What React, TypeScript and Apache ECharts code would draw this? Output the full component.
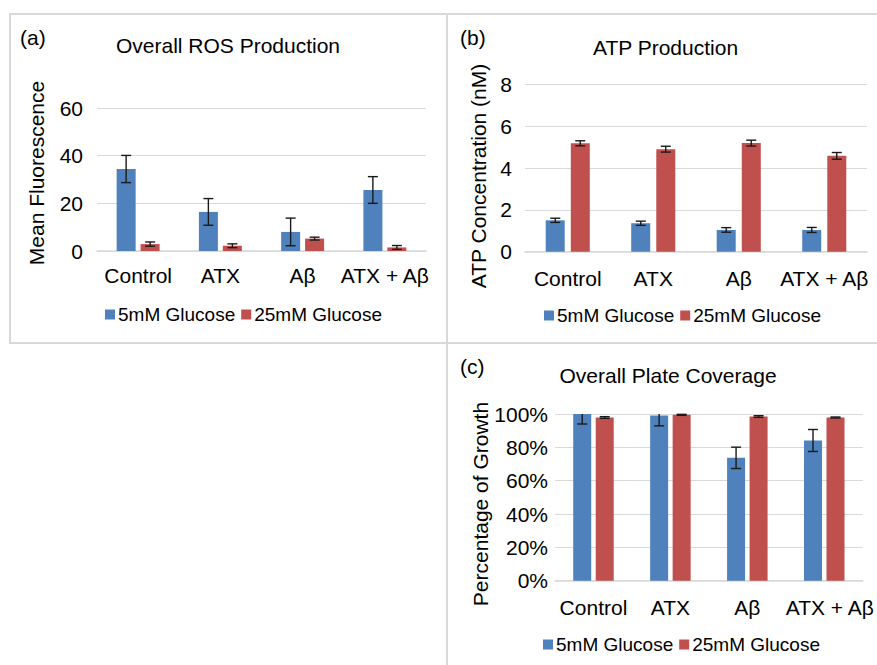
import React, { useEffect, useRef } from "react";
import * as echarts from "echarts";

const categories = ["Control", "ATX", "Aβ", "ATX + Aβ"];
const seriesNames = ["5mM Glucose", "25mM Glucose"];

// (a) Overall ROS Production
const rosLow = [34.4, 16.4, 8.0, 25.6];
const rosLowErr = [5.7, 5.6, 5.8, 5.6];
const rosHigh = [2.9, 2.2, 5.2, 1.5];
const rosHighErr = [0.9, 0.8, 0.6, 0.8];

// (b) ATP Production
const atpLow = [1.5, 1.36, 1.04, 1.04];
const atpLowErr = [0.1, 0.1, 0.11, 0.12];
const atpHigh = [5.18, 4.9, 5.19, 4.58];
const atpHighErr = [0.12, 0.14, 0.14, 0.16];

// (c) Overall Plate Coverage (fractions)
const covLow = [1.0, 0.991, 0.737, 0.841];
const covLowErr = [0.06, 0.062, 0.064, 0.066];
const covHigh = [0.979, 0.995, 0.985, 0.979];
const covHighErr = [0.005, 0.003, 0.005, 0.003];

const FONT = "'Liberation Sans', Arial, sans-serif";
const BLUE = "#4f81bd";
const RED = "#c0504d";
const GRIDC = "#d9d9d9";
const TXT = "#000000";

function errSeries(
  idx: number,
  vals: number[],
  errs: number[],
  offset: number,
  axisMax: number
) {
  return {
    type: "custom",
    xAxisIndex: idx,
    yAxisIndex: idx,
    silent: true,
    z: 10,
    data: vals.map((v, i) => [i, v, errs[i]]),
    renderItem: (params: any, api: any) => {
      const i = api.value(0);
      const v = api.value(1);
      const e = api.value(2);
      const hi = Math.min(v + e, axisMax);
      const lo = v - e;
      const pHi = api.coord([i, hi]);
      const pLo = api.coord([i, lo]);
      const x = pHi[0] + offset;
      const cap = 5;
      const style = { stroke: "#1a1a1a", lineWidth: 1.4 };
      const children: any[] = [
        { type: "line", shape: { x1: x, y1: pHi[1], x2: x, y2: pLo[1] }, style },
        { type: "line", shape: { x1: x - cap, y1: pLo[1], x2: x + cap, y2: pLo[1] }, style },
      ];
      if (v + e <= axisMax) {
        children.push({
          type: "line",
          shape: { x1: x - cap, y1: pHi[1], x2: x + cap, y2: pHi[1] },
          style,
        });
      }
      return { type: "group", children };
    },
  };
}

export default function App() {
  const ref = useRef<HTMLDivElement>(null);
  useEffect(() => {
    if (!ref.current) return;
    const chart = echarts.init(ref.current, null, { renderer: "svg" });

    const grids = [
      { left: 97, top: 108, width: 329, height: 143 },
      { left: 525, top: 84.3, width: 342, height: 167.4 },
      { left: 555, top: 414, width: 311, height: 166.7 },
    ];
    const labelMargins = [14, 16, 16];
    const tickMargins = [14, 13, 7];

    const xAxes = grids.map((_, i) => ({
      type: "category",
      gridIndex: i,
      data:
        i === 2
          ? categories.map((c, k) =>
              k === categories.length - 1
                ? { value: c, textStyle: { padding: [0, 0, 0, 11] } }
                : c
            )
          : categories,
      axisTick: { show: false },
      axisLine: { show: true, lineStyle: { color: GRIDC, width: 1.5 } },
      axisLabel: {
        fontSize: 21,
        fontFamily: FONT,
        color: TXT,
        margin: labelMargins[i],
        interval: 0,
      },
    }));

    const yAxes = [
      { min: 0, max: 60, interval: 20, fmt: (v: number) => String(v) },
      { min: 0, max: 8, interval: 2, fmt: (v: number) => String(v) },
      { min: 0, max: 1, interval: 0.2, fmt: (v: number) => Math.round(v * 100) + "%" },
    ].map((a, i) => ({
      type: "value",
      gridIndex: i,
      min: a.min,
      max: a.max,
      interval: a.interval,
      axisLine: { show: false },
      axisTick: { show: false },
      splitLine: { show: true, lineStyle: { color: GRIDC, width: 1 } },
      axisLabel: {
        fontSize: 21,
        fontFamily: FONT,
        color: TXT,
        margin: tickMargins[i],
        formatter: a.fmt,
      },
    }));

    const barCfg = [
      { w: 19, gap: "26%" },
      { w: 19, gap: "32%" },
      { w: 18, gap: "25%" },
    ];
    const offsets = [12, 12.5, 11.25];
    const data = [
      [rosLow, rosLowErr, rosHigh, rosHighErr, 60],
      [atpLow, atpLowErr, atpHigh, atpHighErr, 8],
      [covLow, covLowErr, covHigh, covHighErr, 1],
    ] as any[];

    const series: any[] = [];
    data.forEach((d, i) => {
      series.push({
        type: "bar",
        name: seriesNames[0],
        xAxisIndex: i,
        yAxisIndex: i,
        data: d[0],
        barWidth: barCfg[i].w,
        barGap: barCfg[i].gap,
        itemStyle: { color: BLUE },
      });
      series.push({
        type: "bar",
        name: seriesNames[1],
        xAxisIndex: i,
        yAxisIndex: i,
        data: d[2],
        barWidth: barCfg[i].w,
        barGap: barCfg[i].gap,
        itemStyle: { color: RED },
      });
      series.push(errSeries(i, d[0], d[1], -offsets[i], d[4]));
      series.push(errSeries(i, d[2], d[3], offsets[i], d[4]));
    });

    const legendPos = [
      { left: 105, top: 305 },
      { left: 544, top: 306 },
      { left: 543, top: 635 },
    ];
    const legends = legendPos.map((p) => ({
      left: p.left,
      top: p.top,
      data: seriesNames,
      icon: "rect",
      itemWidth: 10,
      itemHeight: 10,
      itemGap: 6,
      padding: 0,
      selectedMode: false,
      textStyle: { fontSize: 19, fontFamily: FONT, color: TXT, padding: [0, 0, 0, -2] },
    }));

    const txt = (
      text: string,
      x: number,
      y: number,
      align: string,
      rot = 0
    ) => ({
      type: "text",
      x,
      y,
      rotation: rot,
      z: 50,
      style: {
        text,
        fontSize: 21,
        fontFamily: FONT,
        fill: TXT,
        textAlign: align,
        textVerticalAlign: "middle",
      },
    });

    const border = { stroke: "#d9d9d9", lineWidth: 2, fill: "none" };

    chart.setOption({
      animation: false,
      backgroundColor: "#ffffff",
      grid: grids,
      xAxis: xAxes,
      yAxis: yAxes,
      legend: legends,
      series,
      graphic: [
        { type: "rect", shape: { x: 10, y: 14, width: 437, height: 329 }, style: border, z: 1 },
        { type: "rect", shape: { x: 447, y: 14, width: 440, height: 329 }, style: border, z: 1 },
        { type: "rect", shape: { x: 447, y: 343, width: 440, height: 340 }, style: border, z: 1 },
        txt("(a)", 20, 37, "left"),
        txt("(b)", 460, 37, "left"),
        txt("(c)", 460, 366, "left"),
        txt("Overall ROS Production", 228, 45.5, "center"),
        txt("ATP Production", 665.5, 47, "center"),
        txt("Overall Plate Coverage", 668, 375, "center"),
        txt("Mean Fluorescence", 36.5, 173, "center", Math.PI / 2),
        txt("ATP Concentration (nM)", 478, 176, "center", Math.PI / 2),
        txt("Percentage of Growth", 480, 504, "center", Math.PI / 2),
      ],
    });

    return () => chart.dispose();
  }, []);

  return (
    <div
      ref={ref}
      style={{ position: "fixed", left: 0, top: 0, width: 877, height: 665 }}
    />
  );
}
